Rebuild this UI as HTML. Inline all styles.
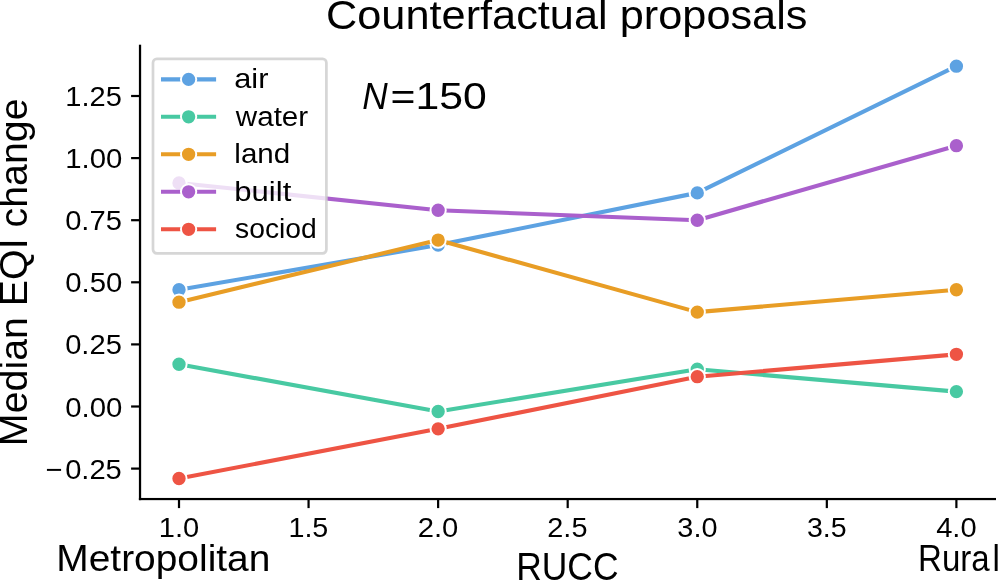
<!DOCTYPE html>
<html lang="en"><head><meta charset="utf-8"><title>Counterfactual proposals</title>
<style>
html,body{margin:0;padding:0;background:#fff;}
body{width:998px;height:580px;overflow:hidden;font-family:"Liberation Sans",sans-serif;}
svg{display:block;will-change:transform;}
svg text{font-family:"Liberation Sans",sans-serif;}
</style></head><body>
<svg width="998" height="580" viewBox="0 0 998 580">
<rect width="998" height="580" fill="#fff"/>
<g stroke="#5DA2E2" fill="#5DA2E2"><polyline points="179.00,289.75 438.13,245.04 697.26,192.88 956.39,66.19" fill="none" stroke-width="4.1" stroke-linejoin="round" stroke-linecap="butt"/>
<circle cx="179.00" cy="289.75" r="7.65" stroke="#fff" stroke-width="1.95"/>
<circle cx="438.13" cy="245.04" r="7.65" stroke="#fff" stroke-width="1.95"/>
<circle cx="697.26" cy="192.88" r="7.65" stroke="#fff" stroke-width="1.95"/>
<circle cx="956.39" cy="66.19" r="7.65" stroke="#fff" stroke-width="1.95"/>
</g>
<g stroke="#48C9A2" fill="#48C9A2"><polyline points="179.00,364.27 438.13,411.47 697.26,369.24 956.39,391.60" fill="none" stroke-width="4.1" stroke-linejoin="round" stroke-linecap="butt"/>
<circle cx="179.00" cy="364.27" r="7.65" stroke="#fff" stroke-width="1.95"/>
<circle cx="438.13" cy="411.47" r="7.65" stroke="#fff" stroke-width="1.95"/>
<circle cx="697.26" cy="369.24" r="7.65" stroke="#fff" stroke-width="1.95"/>
<circle cx="956.39" cy="391.60" r="7.65" stroke="#fff" stroke-width="1.95"/>
</g>
<g stroke="#E89D25" fill="#E89D25"><polyline points="179.00,302.17 438.13,240.07 697.26,312.11 956.39,289.75" fill="none" stroke-width="4.1" stroke-linejoin="round" stroke-linecap="butt"/>
<circle cx="179.00" cy="302.17" r="7.65" stroke="#fff" stroke-width="1.95"/>
<circle cx="438.13" cy="240.07" r="7.65" stroke="#fff" stroke-width="1.95"/>
<circle cx="697.26" cy="312.11" r="7.65" stroke="#fff" stroke-width="1.95"/>
<circle cx="956.39" cy="289.75" r="7.65" stroke="#fff" stroke-width="1.95"/>
</g>
<g stroke="#AA60CC" fill="#AA60CC"><polyline points="179.00,182.94 438.13,210.26 697.26,220.20 956.39,145.68" fill="none" stroke-width="4.1" stroke-linejoin="round" stroke-linecap="butt"/>
<circle cx="179.00" cy="182.94" r="7.65" stroke="#fff" stroke-width="1.95"/>
<circle cx="438.13" cy="210.26" r="7.65" stroke="#fff" stroke-width="1.95"/>
<circle cx="697.26" cy="220.20" r="7.65" stroke="#fff" stroke-width="1.95"/>
<circle cx="956.39" cy="145.68" r="7.65" stroke="#fff" stroke-width="1.95"/>
</g>
<g stroke="#EE5444" fill="#EE5444"><polyline points="179.00,478.54 438.13,428.86 697.26,376.69 956.39,354.34" fill="none" stroke-width="4.1" stroke-linejoin="round" stroke-linecap="butt"/>
<circle cx="179.00" cy="478.54" r="7.65" stroke="#fff" stroke-width="1.95"/>
<circle cx="438.13" cy="428.86" r="7.65" stroke="#fff" stroke-width="1.95"/>
<circle cx="697.26" cy="376.69" r="7.65" stroke="#fff" stroke-width="1.95"/>
<circle cx="956.39" cy="354.34" r="7.65" stroke="#fff" stroke-width="1.95"/>
</g>
<g fill="#000">
<rect x="138.9" y="44.7" width="2.25" height="455.45"/>
<rect x="138.9" y="497.95" width="857.1" height="2.2"/>
<rect x="131.1" y="467.50" width="7.9" height="2.2"/>
<rect x="131.1" y="405.40" width="7.9" height="2.2"/>
<rect x="131.1" y="343.30" width="7.9" height="2.2"/>
<rect x="131.1" y="281.20" width="7.9" height="2.2"/>
<rect x="131.1" y="219.10" width="7.9" height="2.2"/>
<rect x="131.1" y="157.00" width="7.9" height="2.2"/>
<rect x="131.1" y="94.90" width="7.9" height="2.2"/>
<rect x="177.90" y="500" width="2.2" height="8.1"/>
<rect x="307.46" y="500" width="2.2" height="8.1"/>
<rect x="437.03" y="500" width="2.2" height="8.1"/>
<rect x="566.59" y="500" width="2.2" height="8.1"/>
<rect x="696.16" y="500" width="2.2" height="8.1"/>
<rect x="825.73" y="500" width="2.2" height="8.1"/>
<rect x="955.29" y="500" width="2.2" height="8.1"/>
</g>
<g font-family="'Liberation Sans', sans-serif" fill="#000">
<text transform="translate(65.16 416.50) scale(1.0490 1)" font-size="28.00">0.00</text>
<text transform="translate(65.17 354.40) scale(1.0401 1)" font-size="28.00">0.25</text>
<text transform="translate(65.16 292.30) scale(1.0490 1)" font-size="28.00">0.50</text>
<text transform="translate(65.17 230.20) scale(1.0401 1)" font-size="28.00">0.75</text>
<text transform="translate(65.22 168.10) scale(1.0478 1)" font-size="28.00">1.00</text>
<text transform="translate(65.24 106.00) scale(1.0387 1)" font-size="28.00">1.25</text>
<text transform="translate(45.46 478.60) scale(1.0401 1)" font-size="28.00">−<tspan dx="2.60">0.25</tspan></text>
<text transform="translate(158.83 536.80) scale(1.0380 1)" font-size="28.00">1.0</text>
<text transform="translate(288.43 536.80) scale(1.0249 1)" font-size="28.00">1.5</text>
<text transform="translate(417.75 536.80) scale(1.0436 1)" font-size="28.00">2.0</text>
<text transform="translate(547.33 536.80) scale(1.0308 1)" font-size="28.00">2.5</text>
<text transform="translate(677.33 536.80) scale(1.0318 1)" font-size="28.00">3.0</text>
<text transform="translate(806.91 536.80) scale(1.0191 1)" font-size="28.00">3.5</text>
<text transform="translate(936.17 536.80) scale(1.0393 1)" font-size="28.00">4.0</text>
</g>
<rect x="153.0" y="58.9" width="173.4" height="194.5" rx="3.8" fill="#fff" fill-opacity="0.8" stroke="#ccc" stroke-opacity="0.8" stroke-width="2.7"/>
<line x1="161" x2="216.1" y1="79.4" y2="79.4" stroke="#5DA2E2" stroke-width="4.1"/>
<circle cx="188.6" cy="79.4" r="7.65" fill="#5DA2E2" stroke="#fff" stroke-width="1.95"/>
<line x1="161" x2="216.1" y1="116.8" y2="116.8" stroke="#48C9A2" stroke-width="4.1"/>
<circle cx="188.6" cy="116.8" r="7.65" fill="#48C9A2" stroke="#fff" stroke-width="1.95"/>
<line x1="161" x2="216.1" y1="154.3" y2="154.3" stroke="#E89D25" stroke-width="4.1"/>
<circle cx="188.6" cy="154.3" r="7.65" fill="#E89D25" stroke="#fff" stroke-width="1.95"/>
<line x1="161" x2="216.1" y1="191.8" y2="191.8" stroke="#AA60CC" stroke-width="4.1"/>
<circle cx="188.6" cy="191.8" r="7.65" fill="#AA60CC" stroke="#fff" stroke-width="1.95"/>
<line x1="161" x2="216.1" y1="229.3" y2="229.3" stroke="#EE5444" stroke-width="4.1"/>
<circle cx="188.6" cy="229.3" r="7.65" fill="#EE5444" stroke="#fff" stroke-width="1.95"/>
<g font-family="'Liberation Sans', sans-serif" fill="#000">
<text transform="translate(234.19 88.30) scale(1.0997 1)" font-size="28.00">air</text>
<text transform="translate(235.84 125.70) scale(1.0567 1)" font-size="28.00">water</text>
<text transform="translate(234.31 163.20) scale(1.0559 1)" font-size="28.00">land</text>
<text transform="translate(234.29 200.70) scale(1.1104 1)" font-size="28.00">built</text>
<text transform="translate(235.01 238.20) scale(1.0108 1)" font-size="28.00">sociod</text>
<g font-size="36.6"><text font-style="italic" transform="translate(362.31 109.0) scale(0.9636 1)">N</text><text transform="translate(390.61 109.0) scale(1.1677 1)">=150</text></g>
<text transform="translate(326.00 28.80) scale(1.0645 1)" font-size="40.70">Counterfactual proposals</text>
<text transform="translate(516.19 579.60) scale(0.9132 1)" font-size="38.80">RUCC</text>
<text transform="translate(56.31 570.90) scale(1.0573 1)" font-size="36.80">Metropolitan</text>
<text transform="translate(918.09 570.5) scale(0.8930 1)" font-size="37.0">Rura<tspan dx="3.2">l</tspan></text>
<text transform="translate(26.5 446.13) rotate(-90) scale(1.0330 1)" font-size="38.1">Median EQI change</text>
</g>
</svg>
</body></html>
